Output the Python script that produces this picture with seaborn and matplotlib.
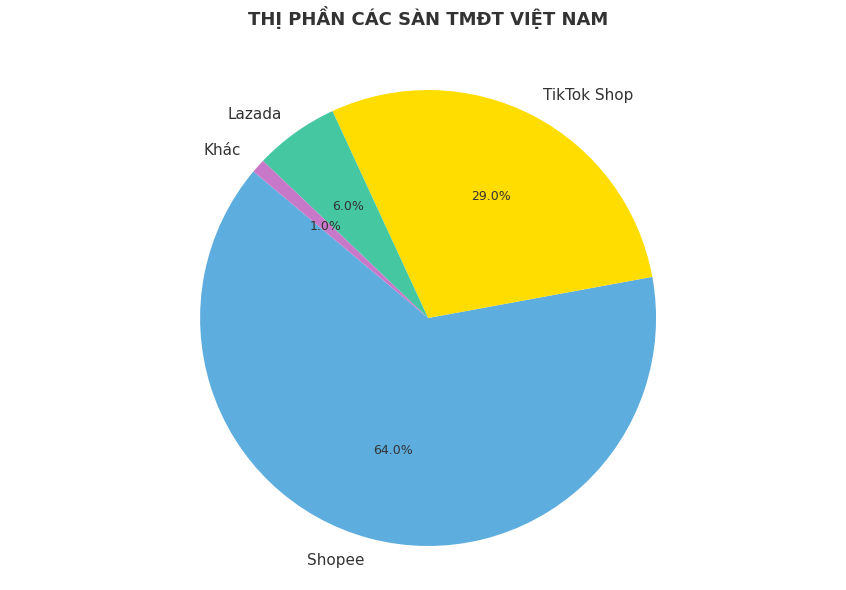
import seaborn as sns
import matplotlib.pyplot as plt

# thi phan cac san TMDT
san = ["Shopee", "TikTok Shop", "Lazada", "Khác"]
thi_phan = [64, 29, 6, 1]
mau = ["#5DADDE", "#FFDD00", "#45C8A2", "#C878C8"]

sns.set_theme(style="white")
plt.rcParams["font.family"] = ["DejaVu Sans"]

fig = plt.figure(figsize=(8.46, 5.9), dpi=100)
ax = fig.add_axes([0.169, -0.022, 0.674, 0.966])
wedges, texts, autotexts = ax.pie(thi_phan, labels=san, colors=mau, autopct="%1.1f%%",
                                  startangle=140, wedgeprops={"linewidth": 0},
                                  textprops={"fontsize": 11, "color": "#333333"})
for t in autotexts:
    t.set_fontsize(9)
ax.set_xlim(-1.25, 1.25)
ax.set_ylim(-1.25, 1.25)
ax.set_aspect("equal")
fig.suptitle("THỊ PHẦN CÁC SÀN TMĐT VIỆT NAM", fontsize=13, fontweight="bold",
             color="#333333", x=0.506, y=0.97, va="center")
plt.savefig("out.png", dpi=100)
